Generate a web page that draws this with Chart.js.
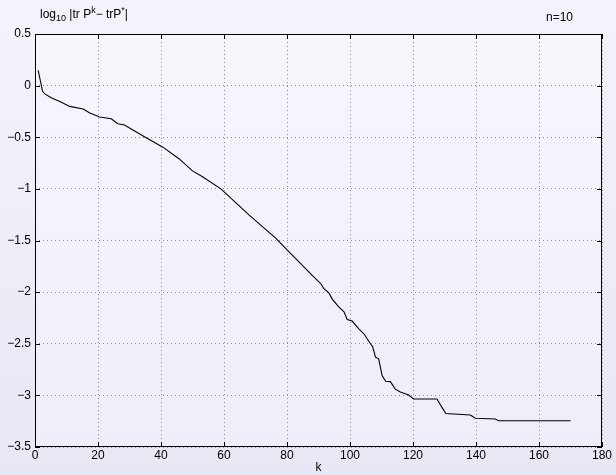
<!DOCTYPE html>
<html>
<head>
<meta charset="utf-8">
<script src="https://cdn.jsdelivr.net/npm/chart.js@4/dist/chart.umd.min.js"></script>
<style>
  html, body { margin: 0; padding: 0; }
  body {
    width: 616px; height: 475px; position: relative; overflow: hidden;
    background: linear-gradient(to bottom, #f3f3fb 0%, #e8e8f5 100%);
    font-family: "Liberation Sans", Arial, Helvetica, sans-serif;
  }
  #wrap { position: absolute; left: 0; top: 0; width: 616px; height: 475px; }
  .lbl { position: absolute; font-size: 12px; color: #000; white-space: nowrap; }
  .lbl sub, .lbl sup { font-size: 9px; }
</style>
</head>
<body>
<div id="wrap"><canvas id="chart" width="616" height="475"></canvas></div>
<div class="lbl" style="left:40px; top:5px;">log<sub>10</sub> |tr P<sup>k</sup>− trP<sup>*</sup>|</div>
<div class="lbl" style="left:546px; top:10px;">n=10</div>
<script>
// values
const kValues = [1, 2.4, 3.1, 5.3, 7.9, 11, 15.3, 17.4, 20.5, 24.2, 26.3, 28.4, 34.2, 40.6, 45.8, 50, 53.2,
  59, 68, 76.5, 80.1, 83.8, 88, 90.7, 91.7, 93.3, 94.4, 96.5, 98.1, 99.1, 100.7, 102.8, 104.4, 106.5,
  107.2, 108.1, 109.1, 110.2, 111.3, 112.8, 114.4, 116, 118.6, 120.2, 127.6, 129.2, 130.4, 138.2,
  139.8, 146.1, 147.2, 170];
const logErr = [0.149, -0.055, -0.08, -0.12, -0.153, -0.201, -0.226, -0.265, -0.304, -0.321, -0.369,
  -0.382, -0.486, -0.596, -0.71, -0.826, -0.882, -1.0, -1.254, -1.48, -1.594, -1.707, -1.837, -1.917,
  -1.966, -2.008, -2.07, -2.145, -2.19, -2.265, -2.28, -2.355, -2.403, -2.5, -2.53, -2.63, -2.646,
  -2.808, -2.864, -2.867, -2.94, -2.967, -2.996, -3.035, -3.035, -3.116, -3.175, -3.19, -3.221,
  -3.229, -3.246, -3.246];
const xTicks = [0, 20, 40, 60, 80, 100, 120, 140, 160, 180];
const yTicks = [-3.5, -3, -2.5, -2, -1.5, -1, -0.5, 0, 0.5];

const points = kValues.map((k, i) => ({ x: k, y: logErr[i] }));
const fontSpec = { family: '"Liberation Sans", Arial, Helvetica, sans-serif', size: 12 };

const plotBg = {
  id: 'plotBg',
  beforeDraw(chart) {
    const { ctx, chartArea: a } = chart;
    const g = ctx.createLinearGradient(0, a.top, 0, a.bottom);
    g.addColorStop(0, '#f6f6fd');
    g.addColorStop(1, '#eeeef9');
    ctx.save();
    ctx.fillStyle = g;
    ctx.fillRect(a.left, a.top, a.right - a.left, a.bottom - a.top);
    ctx.restore();
  }
};

// MATLAB-style box with inward tick marks on all four sides
const frame = {
  id: 'frame',
  afterDraw(chart) {
    const { ctx, chartArea: a, scales } = chart;
    const len = 5;
    ctx.save();
    ctx.strokeStyle = '#000';
    ctx.lineWidth = 1;
    ctx.strokeRect(a.left + 0.5, a.top + 0.5, a.right - a.left - 1, a.bottom - a.top - 1);
    ctx.beginPath();
    xTicks.forEach(v => {
      const px = Math.round(scales.x.getPixelForValue(v)) + 0.5;
      ctx.moveTo(px, a.bottom); ctx.lineTo(px, a.bottom - len);
      ctx.moveTo(px, a.top); ctx.lineTo(px, a.top + len);
    });
    yTicks.forEach(v => {
      const py = Math.round(scales.y.getPixelForValue(v)) + 0.5;
      ctx.moveTo(a.left, py); ctx.lineTo(a.left + len, py);
      ctx.moveTo(a.right, py); ctx.lineTo(a.right - len, py);
    });
    ctx.stroke();
    ctx.restore();
  }
};

const fmt = v => String(v).replace('-', '\u2212');

new Chart(document.getElementById('chart'), {
  type: 'line',
  data: {
    datasets: [{
      data: points,
      borderColor: '#000',
      borderWidth: 1.1,
      pointRadius: 0,
      tension: 0
    }]
  },
  options: {
    responsive: false,
    animation: false,
    layout: { padding: { top: 34, right: 14, bottom: 0, left: 0 } },
    plugins: { legend: { display: false }, tooltip: { enabled: false } },
    scales: {
      x: {
        type: 'linear',
        min: 0, max: 180,
        afterBuildTicks: s => { s.ticks = xTicks.map(v => ({ value: v })); },
        afterFit: s => { s.height = 28; },
        ticks: { color: '#000', font: fontSpec, padding: 1, maxRotation: 0, callback: v => fmt(v) },
        grid: { color: '#8a8a8a', lineWidth: 1, drawTicks: false },
        border: { display: false, dash: [1, 3] },
        title: { display: true, text: 'k', color: '#000', font: fontSpec, padding: 0 }
      },
      y: {
        type: 'linear',
        min: -3.5, max: 0.5,
        afterBuildTicks: s => { s.ticks = yTicks.map(v => ({ value: v })); },
        afterFit: s => { s.width = 35; },
        ticks: { color: '#000', font: fontSpec, padding: 4, callback: v => fmt(v) },
        grid: { color: '#8a8a8a', lineWidth: 1, drawTicks: false },
        border: { display: false, dash: [1, 3] }
      }
    }
  },
  plugins: [plotBg, frame]
});
</script>
</body>
</html>
